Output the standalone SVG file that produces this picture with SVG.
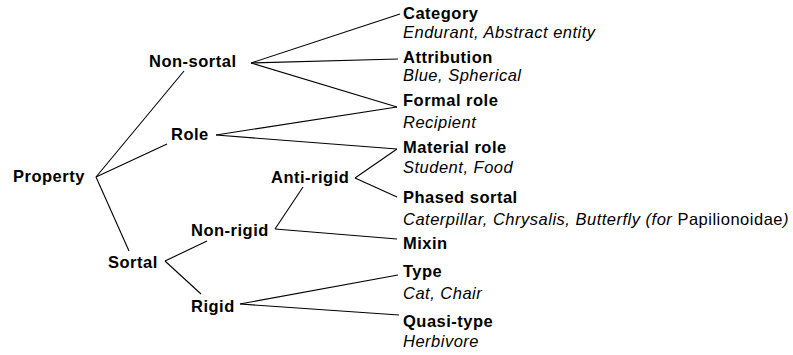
<svg xmlns="http://www.w3.org/2000/svg" width="793" height="355" viewBox="0 0 793 355">
<style>
text{font-family:"Liberation Sans",Arial,sans-serif;font-size:16.5px;letter-spacing:0.5px;fill:#000}
.b{font-weight:bold}
.i{font-style:italic}
.n{font-style:normal}
#connectors line{stroke:#000;stroke-width:1.1;fill:none}
</style>
<rect width="793" height="355" fill="#fff"/>
<g id="connectors">
<line x1="96" y1="177" x2="184" y2="71"/>
<line x1="96" y1="177" x2="167" y2="144"/>
<line x1="96" y1="177" x2="129" y2="251"/>
<line x1="251" y1="63" x2="400" y2="14"/>
<line x1="251" y1="63" x2="398" y2="59"/>
<line x1="251" y1="63" x2="397" y2="107"/>
<line x1="216" y1="135" x2="397" y2="107"/>
<line x1="216" y1="135" x2="397" y2="149"/>
<line x1="355" y1="178" x2="397" y2="149"/>
<line x1="355" y1="178" x2="397" y2="197"/>
<line x1="275" y1="229" x2="303" y2="187"/>
<line x1="275" y1="229" x2="397" y2="239"/>
<line x1="165" y1="261" x2="207" y2="241"/>
<line x1="165" y1="261" x2="201" y2="294"/>
<line x1="240" y1="304" x2="398" y2="275"/>
<line x1="240" y1="304" x2="399" y2="315"/>
</g>
<g id="property"><text class="b" x="13" y="182">Property</text></g>
<g id="non-sortal"><text class="b" x="149" y="67">Non-sortal</text></g>
<g id="role"><text class="b" x="171" y="140">Role</text></g>
<g id="sortal"><text class="b" x="108" y="268">Sortal</text></g>
<g id="non-rigid"><text class="b" x="191" y="236">Non-rigid</text></g>
<g id="anti-rigid"><text class="b" x="271" y="183">Anti-rigid</text></g>
<g id="rigid"><text class="b" x="191" y="312">Rigid</text></g>
<g id="category"><text class="b" x="403" y="19">Category</text><text class="i" x="403" y="38">Endurant, Abstract entity</text></g>
<g id="attribution"><text class="b" x="403" y="63">Attribution</text><text class="i" x="403" y="81">Blue, Spherical</text></g>
<g id="formal-role"><text class="b" x="403" y="106">Formal role</text><text class="i" x="403" y="128">Recipient</text></g>
<g id="material-role"><text class="b" x="403" y="153">Material role</text><text class="i" x="403" y="173">Student, Food</text></g>
<g id="phased-sortal"><text class="b" x="403" y="203">Phased sortal</text><text class="i" x="403" y="225">Caterpillar, Chrysalis, Butterfly (for <tspan class="n">Papilionoidae</tspan>)</text></g>
<g id="mixin"><text class="b" x="403" y="249">Mixin</text></g>
<g id="type"><text class="b" x="403" y="277">Type</text><text class="i" x="403" y="299">Cat, Chair</text></g>
<g id="quasi-type"><text class="b" x="403" y="327">Quasi-type</text><text class="i" x="403" y="347">Herbivore</text></g>
</svg>
